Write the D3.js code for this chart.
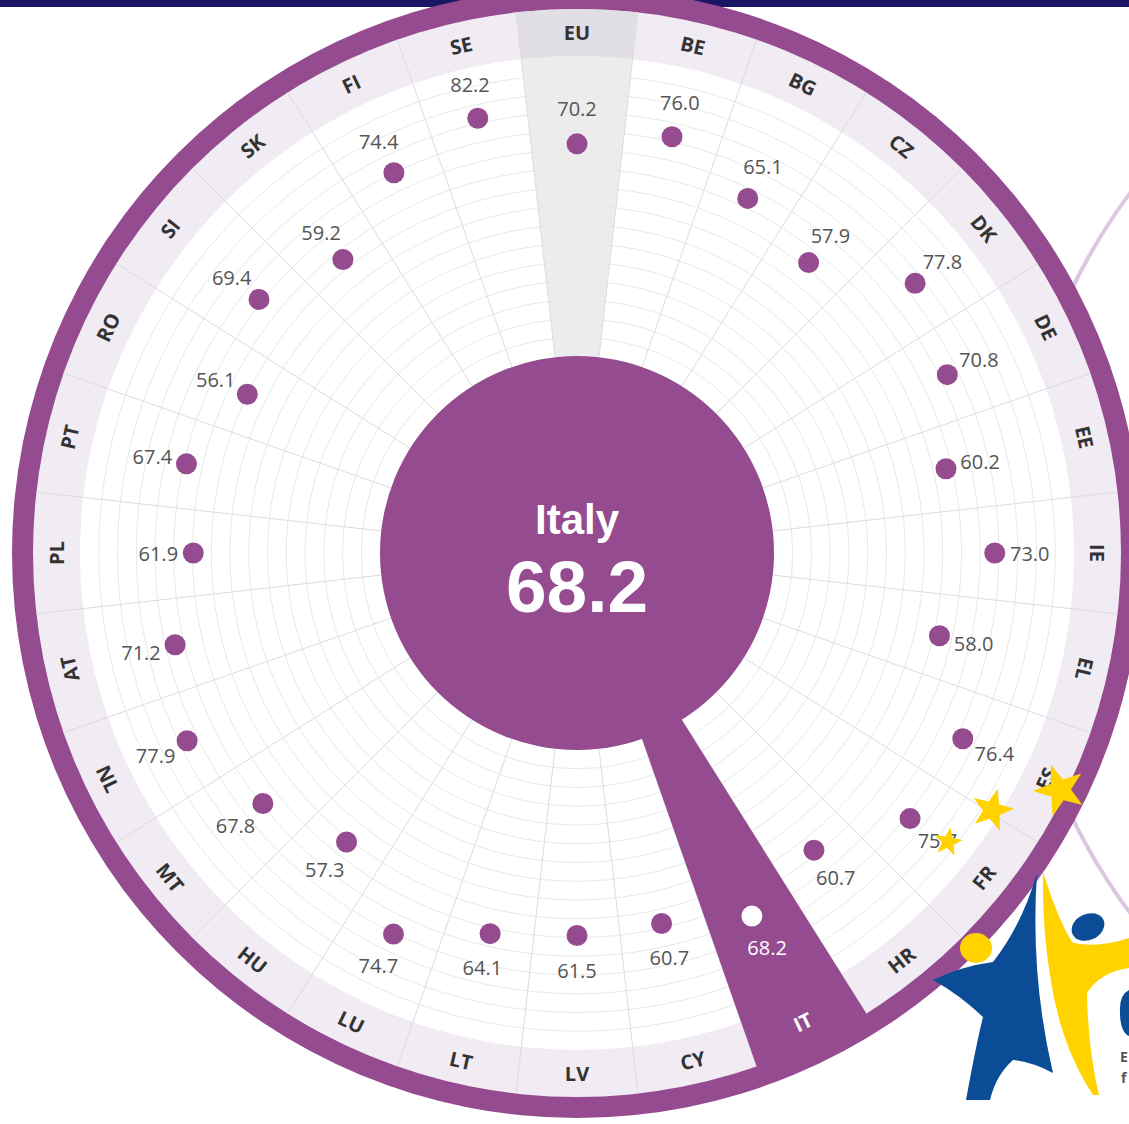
<!DOCTYPE html>
<html lang="en">
<head>
  <meta charset="UTF-8">
  <title>Italy radial chart</title>
  <script src="https://d3js.org/d3.v7.min.js"></script>
  <style>
    body { margin: 0; background: #fff; }
    svg { display: block; }
  </style>
</head>
<body>
  <div id="root"></div>
  <script>
    // data
    const countries = ['EU', 'BE', 'BG', 'CZ', 'DK', 'DE', 'EE', 'IE', 'EL', 'ES', 'FR', 'HR', 'IT', 'CY',
      'LV', 'LT', 'LU', 'HU', 'MT', 'NL', 'AT', 'PL', 'PT', 'RO', 'SI', 'SK', 'FI', 'SE'];
    const values = [70.2, 76.0, 65.1, 57.9, 77.8, 70.8, 60.2, 73.0, 58.0, 76.4, 75.7, 60.7, 68.2, 60.7,
      61.5, 64.1, 74.7, 57.3, 67.8, 77.9, 71.2, 61.9, 67.4, 56.1, 69.4, 59.2, 74.4, 82.2];
    const selected = 'IT';
    const selectedName = 'Italy';
    const average = 'EU';

    const W = 1129, H = 1124;
    const cx = 577, cy = 553;
    const purple = '#954b8f';
    const rInner = 197, rPlot = 497, rBand = 544, rOuter = 565;

    const svg = d3.select('#root').append('svg').attr('width', W).attr('height', H);

    // top navy bar
    svg.append('rect').attr('x', 0).attr('y', 0).attr('width', W).attr('height', 7).attr('fill', '#1b1566');

    // neighbouring chart arc peeking in on the right
    svg.append('circle').attr('cx', 1614).attr('cy', 553).attr('r', 603)
      .attr('fill', 'none').attr('stroke', '#dcc7e0').attr('stroke-width', 4);

    const g = svg.append('g').attr('transform', `translate(${cx},${cy})`);

    const angle = d3.scaleBand().domain(countries)
      .range([-Math.PI / countries.length, 2 * Math.PI - Math.PI / countries.length]);
    const mid = c => angle(c) + angle.bandwidth() / 2;
    const r = d3.scaleLinear().domain([0, 100]).range([194, 500.5]);
    const ring = d3.scaleLinear().domain([0, 16]).range([rInner, rPlot]);

    // rings
    g.append('circle').attr('r', rOuter).attr('fill', purple);
    g.append('circle').attr('r', rBand).attr('fill', '#f1ebf3');
    g.append('circle').attr('r', rPlot).attr('fill', '#fff');

    const arc = d3.arc();
    // EU average sector
    g.append('path').attr('fill', '#ececec').attr('d', arc({
      innerRadius: rInner, outerRadius: rPlot,
      startAngle: angle(average), endAngle: angle(average) + angle.bandwidth()
    }));
    g.append('path').attr('fill', '#e2dee5').attr('d', arc({
      innerRadius: rPlot, outerRadius: rBand,
      startAngle: angle(average), endAngle: angle(average) + angle.bandwidth()
    }));

    // grid circles
    g.selectAll('.grid').data(d3.range(1, 16)).enter().append('circle')
      .attr('class', 'grid')
      .attr('r', d => ring(d))
      .attr('fill', 'none').attr('stroke', '#e8e8e8').attr('stroke-width', 1);

    // sector dividers
    g.selectAll('.spoke').data(countries).enter().append('line')
      .attr('class', 'spoke')
      .attr('x1', c => rInner * Math.sin(angle(c))).attr('y1', c => -rInner * Math.cos(angle(c)))
      .attr('x2', c => rBand * Math.sin(angle(c))).attr('y2', c => -rBand * Math.cos(angle(c)))
      .attr('stroke', '#dcdcdc').attr('stroke-width', 1);

    // selected sector
    g.append('path').attr('fill', purple).attr('d', arc({
      innerRadius: 0, outerRadius: rBand + 1,
      startAngle: angle(selected), endAngle: angle(selected) + angle.bandwidth()
    }));

    // centre disc
    g.append('circle').attr('r', rInner).attr('fill', purple);
    const selValue = values[countries.indexOf(selected)];
    g.append('text').attr('x', 0).attr('y', -19).attr('text-anchor', 'middle')
      .attr('font-family', 'Liberation Sans, Arial, sans-serif').attr('font-weight', 'bold')
      .attr('font-size', 42).attr('fill', '#fff').text(selectedName);
    g.append('text').attr('x', 0).attr('y', 59).attr('text-anchor', 'middle')
      .attr('font-family', 'Liberation Sans, Arial, sans-serif').attr('font-weight', 'bold')
      .attr('font-size', 73).attr('fill', '#fff').text(selValue.toFixed(1));

    // dots and value labels
    const data = countries.map((c, i) => ({ c, v: values[i] }));
    const pt = (a, rad) => [rad * Math.sin(a), -rad * Math.cos(a)];

    g.selectAll('.dot').data(data).enter().append('circle')
      .attr('class', 'dot')
      .attr('cx', d => pt(mid(d.c), r(d.v))[0])
      .attr('cy', d => pt(mid(d.c), r(d.v))[1])
      .attr('r', 10.5)
      .attr('fill', d => d.c === selected ? '#fff' : purple);

    g.selectAll('.val').data(data).enter().append('text')
      .attr('class', 'val')
      .attr('x', d => pt(mid(d.c), r(d.v) + 35)[0])
      .attr('y', d => pt(mid(d.c), r(d.v) + 35)[1])
      .attr('text-anchor', 'middle').attr('dominant-baseline', 'central')
      .attr('font-family', 'Open Sans, sans-serif').attr('font-size', 20)
      .attr('fill', d => d.c === selected ? '#fff' : '#555')
      .text(d => d.v.toFixed(1));

    // country labels
    const rLab = (rPlot + rBand) / 2;
    g.selectAll('.lab').data(countries).enter().append('text')
      .attr('class', 'lab')
      .attr('transform', c => {
        const a = mid(c);
        const p = pt(a, rLab);
        let deg = a * 180 / Math.PI;
        if (deg > 108 && deg < 252) deg -= 180;
        return `translate(${p[0]},${p[1]}) rotate(${deg})`;
      })
      .attr('text-anchor', 'middle').attr('dominant-baseline', 'central')
      .attr('font-family', 'Open Sans, sans-serif').attr('font-weight', 'bold').attr('font-size', 20)
      .attr('fill', c => c === selected ? '#fff' : '#333')
      .text(c => c);

    // decorative stars and logo
    function star(x, y, ro, ri, rot) {
      const pts = [];
      for (let k = 0; k < 10; k++) {
        const a = rot * Math.PI / 180 + k * Math.PI / 5;
        const rr = k % 2 === 0 ? ro : ri;
        pts.push([x + rr * Math.sin(a), y - rr * Math.cos(a)]);
      }
      return 'M' + pts.join('L') + 'Z';
    }
    const yellow = '#ffd200', blue = '#0b4c97';
    svg.append('path').attr('d', star(1060, 790, 27, 11, -20)).attr('fill', yellow);
    svg.append('path').attr('d', star(992, 810, 22, 9, 15)).attr('fill', yellow);
    svg.append('path').attr('d', star(948, 842, 15, 6, 10)).attr('fill', yellow);

    const logo = svg.append('g');
    logo.append('path').attr('fill', blue)
      .attr('d', 'M933,980 Q962,966 993,962 Q1022,925 1037,873 Q1030,975 1053,1073 Q1032,1062 1013,1060 Q996,1075 990,1100 L966,1100 Q976,1045 983,1017 Q960,995 933,980 Z');
    logo.append('path').attr('fill', yellow)
      .attr('d', 'M1043,872 Q1060,925 1073,943 Q1100,948 1129,938 L1129,968 Q1100,972 1087,993 Q1088,1050 1099,1095 L1093,1095 Q1060,1045 1050,975 Q1042,925 1043,872 Z');
    logo.append('ellipse').attr('cx', 1088).attr('cy', 927).attr('rx', 17).attr('ry', 13)
      .attr('transform', 'rotate(-25 1088 927)').attr('fill', blue);
    logo.append('ellipse').attr('cx', 976).attr('cy', 948).attr('rx', 16).attr('ry', 15).attr('fill', yellow);
    logo.append('path').attr('fill', blue)
      .attr('d', 'M1129,990 Q1119,995 1120,1012 Q1120,1032 1129,1036 Z');
    logo.append('text').attr('x', 1120).attr('y', 1062).attr('font-family', 'Open Sans, sans-serif')
      .attr('font-weight', 'bold').attr('font-size', 14).attr('fill', '#555').text('E');
    logo.append('text').attr('x', 1121).attr('y', 1083).attr('font-family', 'Open Sans, sans-serif')
      .attr('font-weight', 'bold').attr('font-size', 14).attr('fill', '#555').text('f');
  </script>
</body>
</html>
